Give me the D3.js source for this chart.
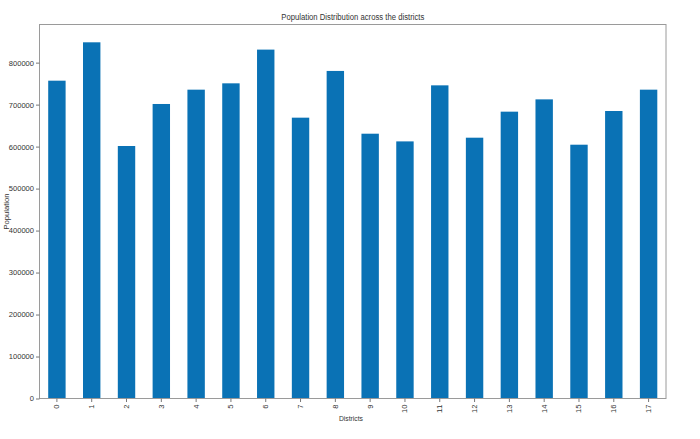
<!DOCTYPE html>
<html>
<head>
<meta charset="utf-8">
<script src="https://cdn.jsdelivr.net/npm/d3@7"></script>
<style>
  html, body { margin: 0; padding: 0; background: #fff; }
  svg { display: block; }
  text { font-family: "Liberation Sans", "DejaVu Sans", sans-serif; fill: #333; }
</style>
</head>
<body>
<svg id="chart" width="700" height="439"></svg>
<script>
const districts = ["0","1","2","3","4","5","6","7","8","9","10","11","12","13","14","15","16","17"];
const population = [757000, 848400, 601400, 701500, 735600, 750700, 831000, 668900, 780200,
                    630700, 612400, 745900, 621200, 683200, 712500, 604500, 684800, 735600];
const yTicks = [0, 100000, 200000, 300000, 400000, 500000, 600000, 700000, 800000];
const titleText = "Population Distribution across the districts";
const xLabel = "Districts";
const yLabel = "Population";

const W = 700, H = 439;
const m = { left: 39.5, right: 34, top: 24.5, bottom: 40.5 };
const svg = d3.select("#chart");

const x = d3.scaleBand().domain(districts)
  .range([m.left, W - m.right]).paddingInner(0.5).paddingOuter(0.25);
const y = d3.scaleLinear().domain([0, d3.max(population) * 1.05])
  .range([H - m.bottom, m.top]);

// bars
svg.append("g").selectAll("rect").data(population).join("rect")
  .attr("x", (d, i) => x(districts[i]))
  .attr("width", x.bandwidth())
  .attr("y", d => y(d))
  .attr("height", d => y(0) - y(d))
  .attr("fill", "#0a72b5");

// frame
svg.append("rect")
  .attr("x", m.left).attr("y", m.top)
  .attr("width", W - m.right - m.left).attr("height", H - m.bottom - m.top)
  .attr("fill", "none").attr("stroke", "#9a9a9a").attr("stroke-width", 1);

// y axis
const yAxis = svg.append("g").attr("transform", `translate(${m.left},0)`)
  .call(d3.axisLeft(y).tickValues(yTicks).tickFormat(d3.format("d")).tickSize(3.5).tickPadding(2));
yAxis.select(".domain").remove();
yAxis.selectAll("line").attr("stroke", "#777");
yAxis.selectAll("text").attr("font-size", 7.5).attr("fill", "#444")
  .attr("textLength", d => String(d).length * 4.2)
  .attr("lengthAdjust", "spacingAndGlyphs");

// x axis
const xAxis = svg.append("g").attr("transform", `translate(0,${H - m.bottom})`)
  .call(d3.axisBottom(x).tickSize(3.5).tickPadding(2));
xAxis.select(".domain").remove();
xAxis.selectAll("line").attr("stroke", "#777");
xAxis.selectAll("text")
  .attr("font-size", 7.5).attr("fill", "#444")
  .attr("transform", "rotate(-90)")
  .attr("text-anchor", "end")
  .attr("dy", "0.32em")
  .attr("x", -6).attr("y", 0)
  .attr("textLength", d => d.length * 4.2)
  .attr("lengthAdjust", "spacingAndGlyphs");

// title
svg.append("text").attr("x", (m.left + W - m.right) / 2).attr("y", 20)
  .attr("text-anchor", "middle").attr("font-size", 8.5).attr("fill", "#222")
  .attr("textLength", 143).attr("lengthAdjust", "spacingAndGlyphs")
  .text(titleText);

// axis labels
svg.append("text").attr("x", 351).attr("y", 421)
  .attr("text-anchor", "middle").attr("font-size", 8).attr("fill", "#333")
  .attr("textLength", 24).attr("lengthAdjust", "spacingAndGlyphs")
  .text(xLabel);
svg.append("text")
  .attr("transform", `translate(9,${(m.top + H - m.bottom) / 2}) rotate(-90)`)
  .attr("text-anchor", "middle").attr("font-size", 8).attr("fill", "#333")
  .attr("textLength", 36).attr("lengthAdjust", "spacingAndGlyphs")
  .text(yLabel);
</script>
</body>
</html>
